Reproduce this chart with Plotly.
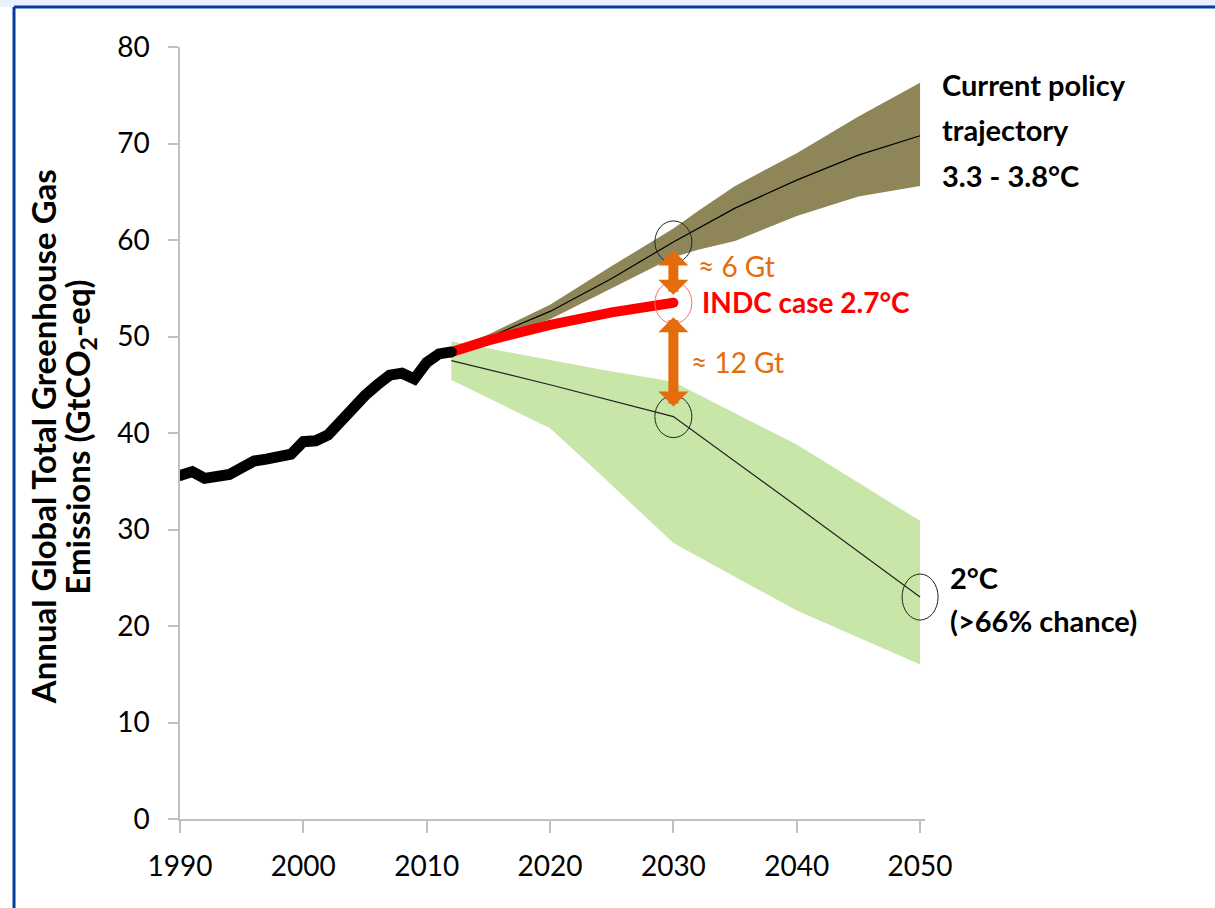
import plotly.graph_objects as go

# ---------------- data ----------------
hist_years = list(range(1990, 2013))
hist_vals = [35.6, 36.0, 35.3, 35.6, 35.7, 36.4, 37.1, 37.3, 37.6, 37.8, 39.1, 39.2,
             39.8, 41.2, 42.7, 43.9, 45.0, 46.0, 46.2, 45.6, 47.3, 48.2, 48.4]

indc_years = [2012, 2015, 2020, 2025, 2030]
indc_vals = [48.4, 49.6, 51.2, 52.5, 53.5]

cp_years = [2012, 2015, 2020, 2025, 2030, 2032, 2035, 2040, 2045, 2050]
cp_upper = [48.6, 50.2, 53.3, 57.3, 61.2, 63.0, 65.6, 69.0, 72.8, 76.3]
cp_lower = [48.4, 49.6, 51.8, 55.0, 58.2, 59.0, 59.9, 62.5, 64.5, 65.6]
cp_center = [48.5, 49.9, 52.6, 56.0, 59.8, 61.2, 63.3, 66.2, 68.8, 70.8]

two_years = [2012, 2020, 2024, 2030, 2040, 2050]
two_upper = [49.5, 47.6, 46.6, 45.3, 38.8, 30.9]
two_lower = [45.5, 40.5, 35.8, 28.6, 21.6, 16.0]
two_center_years = [2012, 2020, 2030, 2040, 2050]
two_center = [47.5, 45.0, 41.7, 32.4, 23.0]

x_ticks = [1990, 2000, 2010, 2020, 2030, 2040, 2050]
y_ticks = [0, 10, 20, 30, 40, 50, 60, 70, 80]

# ---------------- styles ----------------
FONT = "Lato"
OLIVE = "#8E8658"
GREEN = "#C7E6A8"
RED = "#FF0000"
ORANGE = "#E46C0A"
AXIS_GRAY = "#BFBFBF"
X_RANGE = [1990, 2050.4]
Y_RANGE = [0, 80]

fig = go.Figure()

# current policy band
fig.add_trace(go.Scatter(x=cp_years, y=cp_lower, mode="lines", line=dict(width=0, color=OLIVE),
                         showlegend=False, hoverinfo="skip"))
fig.add_trace(go.Scatter(x=cp_years, y=cp_upper, mode="lines", line=dict(width=0, color=OLIVE),
                         fill="tonexty", fillcolor=OLIVE, showlegend=False, hoverinfo="skip"))
# 2 degree band
fig.add_trace(go.Scatter(x=two_years, y=two_lower, mode="lines", line=dict(width=0, color=GREEN),
                         showlegend=False, hoverinfo="skip"))
fig.add_trace(go.Scatter(x=two_years, y=two_upper, mode="lines", line=dict(width=0, color=GREEN),
                         fill="tonexty", fillcolor=GREEN, showlegend=False, hoverinfo="skip"))
# center lines
fig.add_trace(go.Scatter(x=cp_years, y=cp_center, mode="lines", line=dict(width=1.2, color="#000000"),
                         showlegend=False))
fig.add_trace(go.Scatter(x=two_center_years, y=two_center, mode="lines",
                         line=dict(width=1.2, color="#222222"), showlegend=False))
# INDC line
fig.add_trace(go.Scatter(x=indc_years, y=indc_vals, mode="lines", line=dict(width=10, color=RED),
                         showlegend=False))
fig.add_trace(go.Scatter(x=[indc_years[-1]], y=[indc_vals[-1]], mode="markers",
                         marker=dict(size=10, color=RED, line=dict(width=0)), showlegend=False))
# historical
fig.add_trace(go.Scatter(x=hist_years, y=hist_vals, mode="lines",
                         line=dict(width=11, color="#000000"), showlegend=False))
fig.add_trace(go.Scatter(x=[hist_years[0], hist_years[-1]], y=[hist_vals[0], hist_vals[-1]], mode="markers",
                         marker=dict(size=11, color="#000000", line=dict(width=0)), showlegend=False))


def px(xv):
    return (xv - X_RANGE[0]) / (X_RANGE[1] - X_RANGE[0])


def py(yv):
    return (yv - Y_RANGE[0]) / (Y_RANGE[1] - Y_RANGE[0])


shapes = []


def circ(x, y, color, w, h, lw):
    return dict(type="circle", xref="paper", yref="paper", xsizemode="pixel", ysizemode="pixel",
                xanchor=px(x), yanchor=py(y), x0=-w / 2, x1=w / 2, y0=-h / 2, y1=h / 2,
                line=dict(color=color, width=lw), fillcolor="rgba(0,0,0,0)", layer="above")


i30 = cp_years.index(2030)
j30 = two_center_years.index(2030)
shapes.append(circ(2030, cp_center[i30], "#222222", 37, 42, 1))
shapes.append(circ(2030, indc_vals[-1], "#FF6A6A", 37, 42, 1))
shapes.append(circ(2030, two_center[j30], "#222222", 37, 42, 1))
shapes.append(circ(2050, two_center[-1], "#222222", 36, 46, 1))

# blue frame (partially cropped)
shapes.append(dict(type="rect", xref="paper", yref="paper", x0=-0.3, x1=1.39,
                   y0=1.0518, y1=1.07, line=dict(width=0), fillcolor="#E8F1FD", layer="below"))
shapes.append(dict(type="line", xref="paper", yref="paper", x0=-0.2228, x1=1.39,
                   y0=1.0518, y1=1.0518, line=dict(color="#063A9E", width=3)))
shapes.append(dict(type="line", xref="paper", yref="paper", x0=-0.2228, x1=-0.2228,
                   y0=1.0518, y1=-0.13, line=dict(color="#063A9E", width=3)))

annotations = []
# double arrows
annotations.append(dict(x=2030, y=indc_vals[-1], ax=2030, ay=cp_center[i30], xref="x", yref="y",
                        axref="x", ayref="y", text="", showarrow=True, arrowside="end+start",
                        arrowhead=1, startarrowhead=1, arrowsize=0.5, startarrowsize=0.5,
                        arrowwidth=10, arrowcolor=ORANGE, standoff=8, startstandoff=7))
annotations.append(dict(x=2030, y=two_center[j30], ax=2030, ay=indc_vals[-1], xref="x", yref="y",
                        axref="x", ayref="y", text="", showarrow=True, arrowside="end+start",
                        arrowhead=1, startarrowhead=1, arrowsize=0.5, startarrowsize=0.5,
                        arrowwidth=10, arrowcolor=ORANGE, standoff=10, startstandoff=13))


def label(xp, y, text, color, size, bold=False):
    return dict(x=xp, y=y, xref="paper", yref="y", text=f"<b>{text}</b>" if bold else text,
                showarrow=False, xanchor="left", yanchor="middle",
                font=dict(family=FONT, size=size, color=color))


annotations.append(label(0.6925, 57.3, "≈ 6 Gt", ORANGE, 28))
annotations.append(label(0.6835, 47.4, "≈ 12 Gt", ORANGE, 28))
annotations.append(label(0.6985, 53.6, "INDC case 2.7°C", RED, 28, True))
annotations.append(label(1.0205, 76.1, "Current policy", "#000000", 29, True))
annotations.append(label(1.0205, 71.4, "trajectory", "#000000", 29, True))
annotations.append(label(1.0205, 66.7, "3.3 - 3.8°C", "#000000", 29, True))
annotations.append(label(1.0315, 25.0, "2°C", "#000000", 29, True))
annotations.append(label(1.0315, 20.6, "(>66% chance)", "#000000", 29, True))

# y-axis title (two rotated lines)
annotations.append(dict(x=-0.1835, y=0.495, xref="paper", yref="paper", xanchor="center", yanchor="middle",
                        text="<b>Annual Global Total Greenhouse Gas</b>", textangle=-90, showarrow=False,
                        font=dict(family=FONT, size=33, color="#000000")))
annotations.append(dict(x=-0.1345, y=0.495, xref="paper", yref="paper", xanchor="center", yanchor="middle",
                        text="<b>Emissions (GtCO<sub>2</sub>-eq)</b>", textangle=-90, showarrow=False,
                        font=dict(family=FONT, size=33, color="#000000")))

fig.update_layout(
    width=1215, height=908,
    margin=dict(l=180, r=290, t=47, b=89),
    paper_bgcolor="white", plot_bgcolor="white",
    showlegend=False,
    shapes=shapes, annotations=annotations,
    font=dict(family=FONT, color="#000000"),
)
fig.update_xaxes(range=X_RANGE, tickvals=x_ticks, ticktext=[str(v) for v in x_ticks],
                 showgrid=False, zeroline=False, showline=True, linecolor=AXIS_GRAY, linewidth=1.5,
                 ticks="outside", ticklen=12, tickcolor=AXIS_GRAY, tickwidth=1.5,
                 tickfont=dict(family=FONT, size=28, color="#000000"), ticklabelstandoff=10)
fig.update_yaxes(range=Y_RANGE, tickvals=y_ticks, showgrid=False, zeroline=False, showline=True,
                 linecolor=AXIS_GRAY, linewidth=1.5, ticks="outside", ticklen=10, tickcolor=AXIS_GRAY,
                 tickwidth=1.5, tickfont=dict(family=FONT, size=28, color="#000000"),
                 ticklabelstandoff=13)

fig.write_html("out.html", config={"displayModeBar": False},
               post_script="document.body.style.margin='0';")
